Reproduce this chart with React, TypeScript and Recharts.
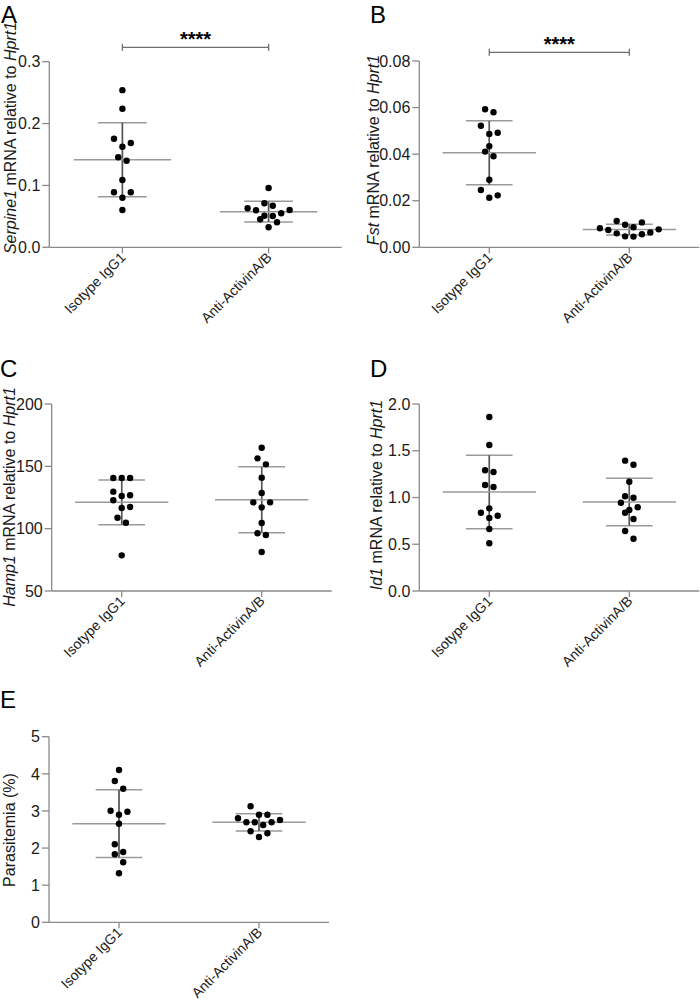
import React from 'react';
import { ScatterChart, Scatter, XAxis, YAxis, ErrorBar, ReferenceLine, Customized } from 'recharts';

const FONT = '"Liberation Sans", Arial, Helvetica, sans-serif';
const AXIS = '#8a8a8a';
const TEXT = '#1a1a1a';

const GROUPS = ['Isotype IgG1', 'Anti-ActivinA/B'];
const GROUP_X = [1, 3];

// A - Serpine1
const serpineIso = [0.254, 0.224, 0.1755, 0.1686, 0.1626, 0.1455, 0.14, 0.1088, 0.0889, 0.0889, 0.0802, 0.0603];
const serpineAnti = [0.0958, 0.0711, 0.0672, 0.063, 0.0603, 0.0598, 0.055, 0.0511, 0.0506, 0.0453, 0.0404, 0.0323];
const serpineMean = [0.1416, 0.0576];
const serpineSd = [0.0598, 0.0167];
const serpineTicks = [0, 0.1, 0.2, 0.3];

// B - Fst
const fstIso = [0.0593, 0.058, 0.0522, 0.0492, 0.0487, 0.0434, 0.0411, 0.0391, 0.029, 0.0246, 0.0223, 0.0213];
const fstAnti = [0.0113, 0.0107, 0.0097, 0.0086, 0.0082, 0.0077, 0.0074, 0.0064, 0.006, 0.0056, 0.0047, 0.0046];
const fstMean = [0.0406, 0.0076];
const fstSd = [0.0137, 0.0023];
const fstTicks = [0, 0.02, 0.04, 0.06, 0.08];

// C - Hamp1
const hampIso = [140.6, 140.6, 140.6, 129.7, 126.8, 126.2, 122.8, 117.4, 116.6, 108.8, 104.8, 78.6];
const hampAnti = [164.9, 156.4, 151.6, 140.9, 128.6, 121.1, 121.1, 117.1, 104.5, 96.3, 94.9, 81.3];
const hampMean = [121.1, 123.2];
const hampSd = [17.9, 26.4];
const hampTicks = [50, 100, 150, 200];

// D - Id1
const id1Iso = [1.861, 1.561, 1.291, 1.273, 1.134, 1.112, 0.884, 0.837, 0.805, 0.781, 0.663, 0.51];
const id1Anti = [1.394, 1.351, 1.169, 1.013, 0.998, 0.944, 0.895, 0.866, 0.837, 0.77, 0.642, 0.559];
const id1Mean = [1.059, 0.952];
const id1Sd = [0.393, 0.253];
const id1Ticks = [0, 0.5, 1, 1.5, 2];

// E - Parasitemia
const paraIso = [4.103, 3.807, 3.599, 3.006, 2.98, 2.899, 2.656, 2.101, 1.894, 1.832, 1.616, 1.32];
const paraAnti = [3.125, 2.899, 2.899, 2.802, 2.756, 2.694, 2.694, 2.694, 2.621, 2.452, 2.398, 2.298];
const paraMean = [2.656, 2.694];
const paraSd = [0.912, 0.233];
const paraTicks = [0, 1, 2, 3, 4, 5];

type Panel = {
  letter: string;
  letterPos: [number, number];
  title: [string, boolean][];
  titlePos: [number, number];
  iso: number[];
  anti: number[];
  mean: number[];
  sd: number[];
  ticks: number[];
  digits: number;
  sigLift?: number;
  box: [number, number, number, number]; // left, top, width, height of chart
  plot: [number, number, number, number]; // plot left, right, top, bottom (page px)
};

const PANELS: Panel[] = [
  {
    letter: 'A', letterPos: [1, 23],
    title: [['Serpine1', true], [' mRNA relative to ', false], ['Hprt1', true]], titlePos: [16, 138],
    iso: serpineIso, anti: serpineAnti, mean: serpineMean, sd: serpineSd, ticks: serpineTicks, digits: 1,
    sigLift: 14.4,
    box: [0, 0, 350, 365], plot: [49.3, 341.7, 61.7, 247.3],
  },
  {
    letter: 'B', letterPos: [370, 23],
    title: [['Fst', true], [' mRNA relative to ', false], ['Hprt1', true]], titlePos: [379, 150],
    iso: fstIso, anti: fstAnti, mean: fstMean, sd: fstSd, ticks: fstTicks, digits: 2,
    sigLift: 8.7,
    box: [350, 0, 350, 365], plot: [419.3, 699.3, 61, 247.3],
  },
  {
    letter: 'C', letterPos: [0, 376.5],
    title: [['Hamp1', true], [' mRNA relative to ', false], ['Hprt1', true]], titlePos: [15, 497],
    iso: hampIso, anti: hampAnti, mean: hampMean, sd: hampSd, ticks: hampTicks, digits: 0,
    box: [0, 330, 350, 370], plot: [51.7, 331.7, 404, 591],
  },
  {
    letter: 'D', letterPos: [370, 376.5],
    title: [['Id1', true], [' mRNA relative to ', false], ['Hprt1', true]], titlePos: [382, 495],
    iso: id1Iso, anti: id1Anti, mean: id1Mean, sd: id1Sd, ticks: id1Ticks, digits: 1,
    box: [350, 330, 350, 370], plot: [419.3, 699.3, 404, 591],
  },
  {
    letter: 'E', letterPos: [0, 708],
    title: [['Parasitemia (%)', false]], titlePos: [15, 830],
    iso: paraIso, anti: paraAnti, mean: paraMean, sd: paraSd, ticks: paraTicks, digits: 0,
    box: [0, 660, 350, 344], plot: [49, 329, 736.7, 922.3],
  },
];

const ROW_PX = 8.6;
const STEP_PX = 8.4;

// GraphPad-like scatter: points closer than a dot row are spread side by side
function swarm(values: number[], pxPerUnit: number): number[] {
  const order = values.map((_, i) => i).sort((a, b) => values[a] - values[b]);
  const slots = new Array(values.length).fill(0);
  let i = 0;
  while (i < order.length) {
    const start = values[order[i]];
    const row = [order[i]];
    let j = i + 1;
    while (j < order.length && (values[order[j]] - start) * pxPerUnit < ROW_PX) {
      row.push(order[j]);
      j++;
    }
    const n = row.length;
    row.forEach((k, m) => {
      if (n % 2 === 1) slots[k] = m === 0 ? 0 : (m % 2 === 1 ? 1 : -1) * Math.ceil(m / 2);
      else slots[k] = (m % 2 === 0 ? 1 : -1) * (Math.floor(m / 2) + 0.5);
    });
    i = j;
  }
  return slots;
}

const DotShape = (props: any) => {
  const slot = props.payload?.slot ?? props.slot ?? 0;
  return <circle cx={props.cx + slot * STEP_PX} cy={props.cy} r={3.2} fill="#000" />;
};

const meanShape = (half: number) => (props: any) => (
  <line x1={props.cx - half} x2={props.cx + half} y1={props.cy} y2={props.cy} stroke="#9a9a9a" strokeWidth={1.5} />
);

const sigShape = (lift: number) => (props: any) => {
  const { x1, x2, y1 } = props;
  const y = y1 - lift;
  return (
    <g>
      <line x1={x1} x2={x2} y1={y} y2={y} stroke="#6e6e6e" strokeWidth={1.3} />
      <line x1={x1} x2={x1} y1={y - 3.5} y2={y + 3.5} stroke="#6e6e6e" strokeWidth={1.3} />
      <line x1={x2} x2={x2} y1={y - 3.5} y2={y + 3.5} stroke="#6e6e6e" strokeWidth={1.3} />
      <text x={(x1 + x2) / 2} y={y - 1} textAnchor="middle" fontSize={20} fontWeight="bold" fontFamily={FONT} fill="#000">
        ****
      </text>
    </g>
  );
};

const GroupTick = (props: any) => {
  const { x, y, payload } = props;
  const label = GROUPS[GROUP_X.indexOf(payload.value)];
  const tx = x + 4;
  const ty = y + 3;
  return (
    <text x={tx} y={ty} textAnchor="end" transform={`rotate(-45, ${tx}, ${ty})`} fontSize={14} fill={TEXT} fontFamily={FONT}>
      {label}
    </text>
  );
};

function PanelChart({ p }: { p: Panel }) {
  const [bx, by, bw, bh] = p.box;
  const [pl, pr, pt, pb] = p.plot;
  const domain: [number, number] = [p.ticks[0], p.ticks[p.ticks.length - 1]];
  const xAxisH = 80;
  const margin = { top: pt - by, right: bx + bw - pr, bottom: by + bh - pb - xAxisH, left: 0 };
  const pxPerUnit = (pb - pt) / (domain[1] - domain[0]);
  const spacing = (pr - pl) / 2;

  const isoSlots = swarm(p.iso, pxPerUnit);
  const antiSlots = swarm(p.anti, pxPerUnit);
  const dots = [
    ...p.iso.map((v, i) => ({ x: GROUP_X[0], y: v, slot: isoSlots[i] })),
    ...p.anti.map((v, i) => ({ x: GROUP_X[1], y: v, slot: antiSlots[i] })),
  ];
  const summary = p.mean.map((m, i) => ({ x: GROUP_X[i], y: m, sd: p.sd[i] }));

  const [tx, ty] = [p.titlePos[0] - bx, p.titlePos[1] - by];
  const overlay = () => (
    <g>
      <text x={p.letterPos[0] - bx} y={p.letterPos[1] - by} fontSize={24} fontFamily={FONT} fill="#000">
        {p.letter}
      </text>
      <text
        x={tx}
        y={ty}
        transform={`rotate(-90, ${tx}, ${ty})`}
        textAnchor="middle"
        fontSize={16}
        fontFamily={FONT}
        fill={TEXT}
        style={{ whiteSpace: 'pre' }}
      >
        {p.title.map(([s, it], i) => (
          <tspan key={i} fontStyle={it ? 'italic' : 'normal'}>
            {s}
          </tspan>
        ))}
      </text>
    </g>
  );

  return (
    <div style={{ position: 'absolute', left: bx, top: by, width: bw, height: bh }}>
      <ScatterChart width={bw} height={bh} margin={margin}>
        <XAxis
          type="number"
          dataKey="x"
          domain={[0, 4]}
          ticks={GROUP_X}
          interval={0}
          allowDataOverflow
          height={xAxisH}
          tickSize={6}
          axisLine={{ stroke: AXIS, strokeWidth: 1.3 }}
          tickLine={{ stroke: AXIS, strokeWidth: 1.3 }}
          tick={(props: any) => <GroupTick {...props} />}
        />
        <YAxis
          type="number"
          dataKey="y"
          domain={domain}
          ticks={p.ticks}
          interval={0}
          allowDataOverflow
          width={pl - bx}
          tickSize={7}
          tickFormatter={(v: number) => v.toFixed(p.digits)}
          tick={{ fill: TEXT, fontSize: 16, fontFamily: FONT }}
          axisLine={{ stroke: AXIS, strokeWidth: 1.3 }}
          tickLine={{ stroke: AXIS, strokeWidth: 1.3 }}
        />
        {p.sigLift !== undefined && (
          <ReferenceLine
            segment={[{ x: GROUP_X[0], y: domain[1] }, { x: GROUP_X[1], y: domain[1] }]}
            shape={sigShape(p.sigLift)}
            ifOverflow="visible"
          />
        )}
        <Scatter data={summary} shape={meanShape(spacing / 3)} isAnimationActive={false}>
          <ErrorBar dataKey="sd" direction="y" width={spacing / 6} stroke="#9a9a9a" strokeWidth={1.5} isAnimationActive={false} />
          <ErrorBar dataKey="sd" direction="y" width={0} stroke="#555" strokeWidth={1.5} isAnimationActive={false} />
        </Scatter>
        <Scatter data={dots} shape={DotShape} isAnimationActive={false} />
        <Customized component={overlay} />
      </ScatterChart>
    </div>
  );
}

export default function App() {
  return (
    <div style={{ position: 'absolute', left: 0, top: 0, width: 700, height: 1004, background: '#fff', fontFamily: FONT }}>
      {PANELS.map((p) => (
        <PanelChart key={p.letter} p={p} />
      ))}
    </div>
  );
}
